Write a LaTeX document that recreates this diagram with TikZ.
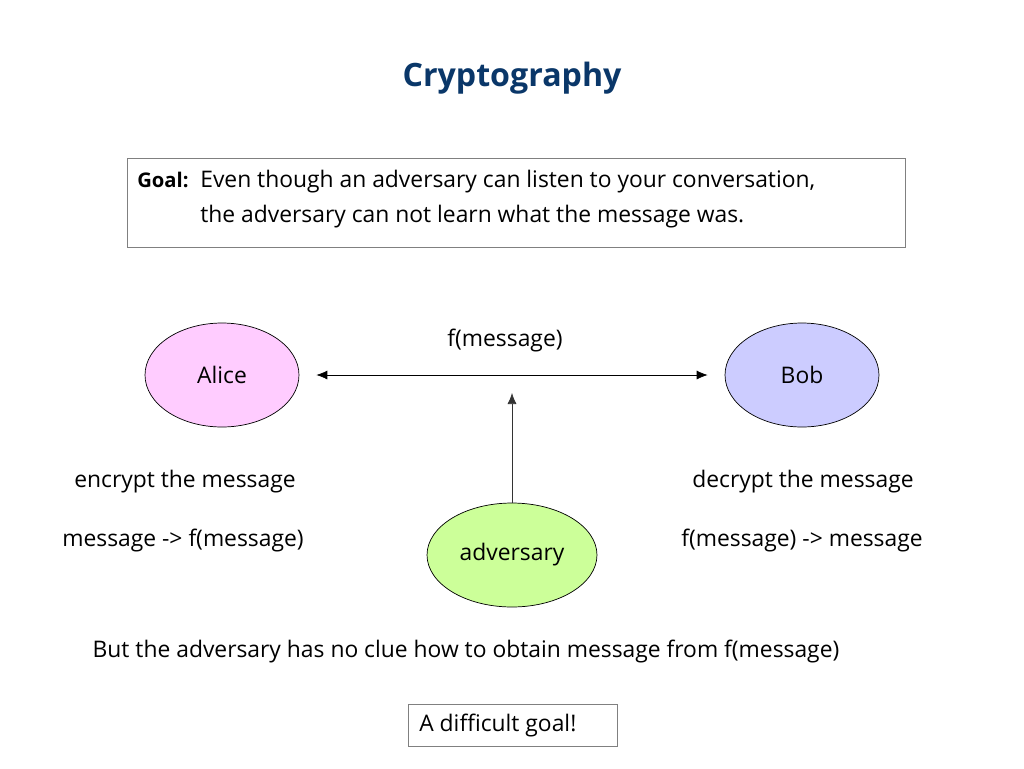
\documentclass[tikz,border=0pt]{standalone}
\usepackage{fontspec}
\setmainfont{Open Sans}
\usepackage{tikz}
\usetikzlibrary{shapes.geometric, arrows.meta, positioning, calc}
\definecolor{titleblue}{RGB}{10, 55, 105}
\definecolor{alicepink}{RGB}{255, 204, 255}
\definecolor{bobblue}{RGB}{204, 204, 255}
\definecolor{evegreen}{RGB}{204, 255, 153}

\tikzset{
    party/.style={ellipse, draw=black, thin, minimum width=3.08cm, minimum height=2.08cm, font=\fontsize{13}{15}\selectfont},
    plain/.style={font=\fontsize{13}{15}\selectfont, inner sep=0pt},
    framebox/.style={draw=gray, thin},
    tip/.tip={Latex[length=2.2mm, width=1.8mm]}
}

\begin{document}
\begin{tikzpicture}[x=0.02cm, y=-0.02cm]
    \useasboundingbox (0,0) rectangle (1024,768);

    % Title
    \node[font=\fontsize{18.3}{21}\selectfont\bfseries, text=titleblue] (title) at (512,78) {Cryptography};

    % Goal box
    \draw[framebox] (127,158) rectangle (905,247);
    \node[plain, font=\fontsize{11.5}{14}\selectfont, anchor=base west] (goalkey) at (137,187) {\textbf{Goal:}};
    \node[plain, anchor=base west] (goal1) at (200,187) {Even though an adversary can listen to your conversation,};
    \node[plain, anchor=base west] (goal2) at (200,222) {the adversary can not learn what the message was.};

    % The parties
    \node[party, fill=alicepink] (alice) at (222,375) {Alice};
    \node[party, fill=bobblue] (bob) at (802,375) {Bob};
    \node[party, fill=evegreen, minimum width=3.4cm] (eve) at (512,555) {adversary};

    % Channel
    \draw[tip-tip, shorten <=0.34cm, shorten >=0.34cm] (alice) -- (bob)
        node[midway, above=0.45cm, plain, xshift=-0.14cm] (fmsg) {f(message)};
    \coordinate (tap) at (512,393);
    \draw[-tip, black!80] (eve.north) -- (tap);

    % What each side does
    \node[plain] (enc) at (185,482) {encrypt the message};
    \node[plain] (encmap) at (183,540) {message -> f(message)};
    \node[plain] (dec) at (803,482) {decrypt the message};
    \node[plain] (decmap) at (802,540) {f(message) -> message};

    % Bottom remarks
    \node[plain] (clue) at (466,651) {But the adversary has no clue how to obtain message from f(message)};
    \draw[framebox] (408,704) rectangle (617,746);
    \node[plain, anchor=west] (hard) at (419,725) {A difficult goal!};
\end{tikzpicture}
\end{document}
